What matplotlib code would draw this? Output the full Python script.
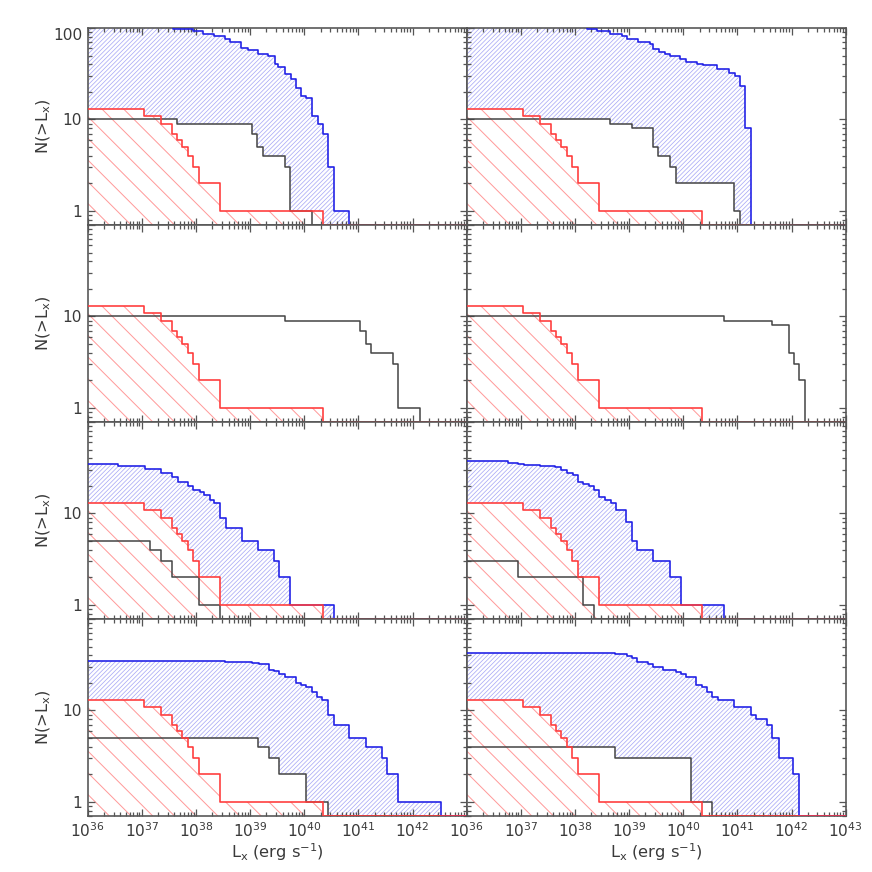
import numpy as np
import matplotlib
matplotlib.use("Agg")
import matplotlib.pyplot as plt
from matplotlib import ticker
from matplotlib.collections import LineCollection
from matplotlib.path import Path

# ---------------- data (log10 L_x step edges, cumulative counts) ----------------
red_logL = [36.0, 37.04, 37.35, 37.55, 37.65, 37.75, 37.85, 37.95, 38.05, 38.44, 40.34]
red_N = [13, 11, 9, 7, 6, 5, 4, 3, 2, 1]

a_blue_logL = [36.0, 37.58, 37.94, 38.13, 38.34, 38.53, 38.62, 38.84, 38.96, 39.14, 39.33, 39.45,
               39.51, 39.65, 39.76, 39.85, 39.94, 40.03, 40.14, 40.25, 40.34, 40.44, 40.54, 40.83]
a_blue_N = [105, 97, 92, 87, 82, 75, 71, 61, 57, 52, 49, 40, 37, 31, 28, 22, 18, 17, 11, 9, 7, 3, 1]
a_black_logL = [36.0, 37.64, 39.03, 39.13, 39.23, 39.65, 39.74, 40.14]
a_black_N = [10, 9, 7, 5, 4, 3, 1]

b_blue_logL = [36.0, 38.22, 38.40, 38.65, 38.86, 38.96, 39.17, 39.39, 39.45, 39.56, 39.66, 39.76,
               39.94, 40.05, 40.25, 40.36, 40.62, 40.85, 40.96, 41.05, 41.14, 41.25]
b_blue_N = [105, 97, 92, 87, 82, 75, 71, 67, 59, 55, 52, 49, 46, 42, 40, 39, 36, 32, 30, 23, 8]
b_black_logL = [36.0, 38.65, 39.05, 39.45, 39.54, 39.76, 39.86, 40.94, 41.05]
b_black_N = [10, 9, 8, 5, 4, 3, 2, 1]

c_black_logL = [36.0, 39.65, 41.03, 41.14, 41.23, 41.64, 41.74, 42.13]
c_black_N = [10, 9, 7, 5, 4, 3, 1]

d_black_logL = [36.0, 40.75, 41.64, 41.95, 42.05, 42.14, 42.25]
d_black_N = [10, 9, 8, 4, 3, 2]

e_blue_logL = [36.0, 36.56, 37.06, 37.36, 37.55, 37.67, 37.85, 37.94, 38.07, 38.14, 38.25, 38.34,
               38.45, 38.55, 38.85, 39.14, 39.44, 39.54, 39.74, 40.54]
e_blue_N = [35, 33, 31, 28, 25, 22, 20, 18, 17, 16, 14, 13, 9, 7, 5, 4, 3, 2, 1]
e_black_logL = [36.0, 37.15, 37.35, 37.55, 38.05, 38.44]
e_black_N = [5, 4, 3, 2, 1]

f_blue_logL = [36.0, 36.76, 36.95, 37.05, 37.35, 37.63, 37.75, 37.85, 37.96, 38.05, 38.15, 38.25,
               38.35, 38.45, 38.55, 38.66, 38.75, 38.94, 39.05, 39.15, 39.45, 39.76, 39.95, 40.75]
f_blue_N = [37, 36, 35, 34, 33, 32, 30, 28, 26, 22, 21, 20, 18, 15, 14, 13, 11, 8, 5, 4, 3, 2, 1]
f_black_logL = [36.0, 36.95, 38.15, 38.35]
f_black_N = [3, 2, 1]

g_blue_logL = [36.0, 38.53, 39.04, 39.16, 39.34, 39.44, 39.54, 39.65, 39.84, 39.94, 40.03, 40.14,
               40.23, 40.33, 40.43, 40.54, 40.83, 41.14, 41.43, 41.53, 41.73, 42.53]
g_blue_N = [35, 34, 33, 32, 28, 27, 25, 23, 20, 19, 18, 16, 14, 13, 9, 7, 5, 4, 3, 2, 1]
g_black_logL = [36.0, 39.14, 39.34, 39.54, 40.03, 40.43]
g_black_N = [5, 4, 3, 2, 1]

h_blue_logL = [36.0, 38.74, 38.96, 39.06, 39.15, 39.35, 39.45, 39.63, 39.86, 39.96, 40.05, 40.24,
               40.34, 40.44, 40.54, 40.65, 40.94, 41.25, 41.34, 41.54, 41.64, 41.76, 42.03, 42.14]
h_blue_N = [42, 41, 39, 37, 34, 32, 30, 28, 26, 25, 23, 19, 18, 16, 14, 13, 11, 9, 8, 7, 5, 3, 2]
h_black_logL = [36.0, 38.74, 40.14, 40.54]
h_black_N = [4, 3, 1]

x_tick_exponents = [36, 37, 38, 39, 40, 41, 42, 43]
y_ticks = [1, 10, 100]

panels = [
    (a_blue_logL, a_blue_N, a_black_logL, a_black_N),
    (b_blue_logL, b_blue_N, b_black_logL, b_black_N),
    (None, None, c_black_logL, c_black_N),
    (None, None, d_black_logL, d_black_N),
    (e_blue_logL, e_blue_N, e_black_logL, e_black_N),
    (f_blue_logL, f_blue_N, f_black_logL, f_black_N),
    (g_blue_logL, g_blue_N, g_black_logL, g_black_N),
    (h_blue_logL, h_blue_N, h_black_logL, h_black_N),
]

# ---------------- style ----------------
YMIN, YMAX = 0.7, 100.0
XLO, XHI = 36, 43
BELOW = 0.5
C_BLUE, C_BLUE_H = "#1f1fe6", "#aaaaf6"
C_RED, C_RED_H = "#ff3b3b", "#ff9a9a"
C_BLACK = "#444444"
C_AX = "#555555"
C_TXT = "#3a3a3a"

plt.rcParams["font.family"] = ["DejaVu Sans"]
plt.rcParams["mathtext.fontset"] = "dejavusans"

FIG_PX = 872
DPI = 130
fig = plt.figure(figsize=(FIG_PX / DPI, FIG_PX / DPI), dpi=DPI)
gs = fig.add_gridspec(4, 2, left=0.1006, right=0.9698, top=0.9679, bottom=0.0642,
                      hspace=0.0, wspace=0.0)


def step_at(edges, counts, grid):
    edges = np.asarray(edges, float)
    counts = np.asarray(counts, float)
    idx = np.searchsorted(edges, grid, side="right") - 1
    out = np.zeros(len(grid))
    ok = (idx >= 0) & (idx < len(counts))
    out[ok] = counts[idx[ok]]
    return out


def step_line(ax, edges, counts, color, lw, z):
    xs = 10.0 ** np.r_[np.asarray(edges, float), XHI]
    ys = np.r_[np.asarray(counts, float), YMIN, YMIN]
    ax.plot(xs, ys, drawstyle="steps-post", color=color, lw=lw, zorder=z)


def hatch_between(ax, x, lo, hi, spacing_px, direction, color, lw):
    """Fill region between lo and hi (step-post) with diagonal hatch lines."""
    poly = ax.fill_between(x, lo, hi, step="post", facecolor="none", linewidth=0)
    paths = poly.get_paths()
    clip = Path.make_compound_path(*paths) if len(paths) > 1 else paths[0]
    poly.remove()
    bb = ax.get_position()
    W = bb.width * FIG_PX
    H = bb.height * FIG_PX
    r = H / W
    step = spacing_px / W
    ts = np.arange(-r - step, 1 + step, step)
    if direction == "/":
        segs = [[(t, 0.0), (t + r, 1.0)] for t in ts]
    else:
        segs = [[(t, 1.0), (t + r, 0.0)] for t in ts]
    lc = LineCollection(segs, colors=color, linewidths=lw, transform=ax.transAxes, zorder=1)
    ax.add_collection(lc, autolim=False)
    lc.set_clip_path(clip, ax.transData)
    lc.set_clip_box(ax.bbox)


def xfmt(e):
    return r"$10^{%d}$" % e


for i, (bl_e, bl_n, k_e, k_n) in enumerate(panels):
    row, col = divmod(i, 2)
    ax = fig.add_subplot(gs[row, col])
    ax.set_xscale("log")
    ax.set_yscale("log")
    ax.set_xlim(10.0 ** XLO, 10.0 ** XHI)
    ax.set_ylim(YMIN, YMAX)

    parts = [red_logL, k_e] + ([bl_e] if bl_e is not None else [])
    grid = np.unique(np.r_[np.concatenate([np.asarray(p, float) for p in parts]), XHI])
    xg = 10.0 ** grid

    red_v = step_at(red_logL, red_N, grid)
    blk_v = step_at(k_e, k_n, grid)

    red_top = np.where(red_v > 0, red_v, BELOW)
    hatch_between(ax, xg, np.full_like(xg, BELOW), red_top, 21.7, "\\", C_RED_H, 0.55)

    if bl_e is not None:
        blu_v = step_at(bl_e, bl_n, grid)
        lower = np.maximum(red_v, blk_v)
        lower = np.where(lower > 0, lower, BELOW)
        upper = np.where(blu_v > 0, blu_v, BELOW)
        upper = np.maximum(upper, lower)
        hatch_between(ax, xg, lower, upper, 4.4, "/", C_BLUE_H, 0.42)

    step_line(ax, k_e, k_n, C_BLACK, 0.85, 3)
    if bl_e is not None:
        step_line(ax, bl_e, bl_n, C_BLUE, 0.9, 4)
    step_line(ax, red_logL, red_N, C_RED, 0.9, 5)

    ax.set_xlim(10.0 ** XLO, 10.0 ** XHI)
    ax.set_ylim(YMIN, YMAX)

    ax.xaxis.set_major_locator(ticker.FixedLocator([10.0 ** e for e in x_tick_exponents]))
    ax.xaxis.set_minor_locator(ticker.LogLocator(base=10, subs=np.arange(2, 10), numticks=30))
    ax.yaxis.set_major_locator(ticker.FixedLocator(y_ticks))
    ax.yaxis.set_minor_locator(ticker.LogLocator(base=10, subs=np.arange(2, 10), numticks=30))

    ax.tick_params(which="both", direction="in", top=True, right=True,
                   color=C_AX, labelcolor=C_TXT, labelsize=8.5, width=0.7)
    ax.tick_params(which="major", length=4.0, pad=3)
    ax.tick_params(which="minor", length=2.0)
    for sp in ax.spines.values():
        sp.set_color(C_AX)
        sp.set_linewidth(0.9)

    if row == 3:
        if col == 0:
            labs = [xfmt(e) if e < XHI else "" for e in x_tick_exponents]
        else:
            labs = [xfmt(e) for e in x_tick_exponents]
        ax.xaxis.set_major_formatter(ticker.FixedFormatter(labs))
        ax.set_xlabel(r"L$_{\rm x}$ (erg s$^{-1}$)", color=C_TXT, fontsize=9)
        ax.xaxis.set_label_coords(0.5, -0.13)
    else:
        ax.xaxis.set_major_formatter(ticker.NullFormatter())
    ax.xaxis.set_minor_formatter(ticker.NullFormatter())

    if col == 0:
        ylabs = ["1", "10", "100" if row == 0 else ""]
        ax.yaxis.set_major_formatter(ticker.FixedFormatter(ylabs))
        ax.set_ylabel(r"N(>L$_{\rm x}$)", color=C_TXT, fontsize=9)
        ax.yaxis.set_label_coords(-0.092, 0.5)
        if row == 0:
            ax.yaxis.get_major_ticks()[2].label1.set_verticalalignment("top")
    else:
        ax.yaxis.set_major_formatter(ticker.NullFormatter())
    ax.yaxis.set_minor_formatter(ticker.NullFormatter())

fig.savefig("out.png", dpi=DPI)
